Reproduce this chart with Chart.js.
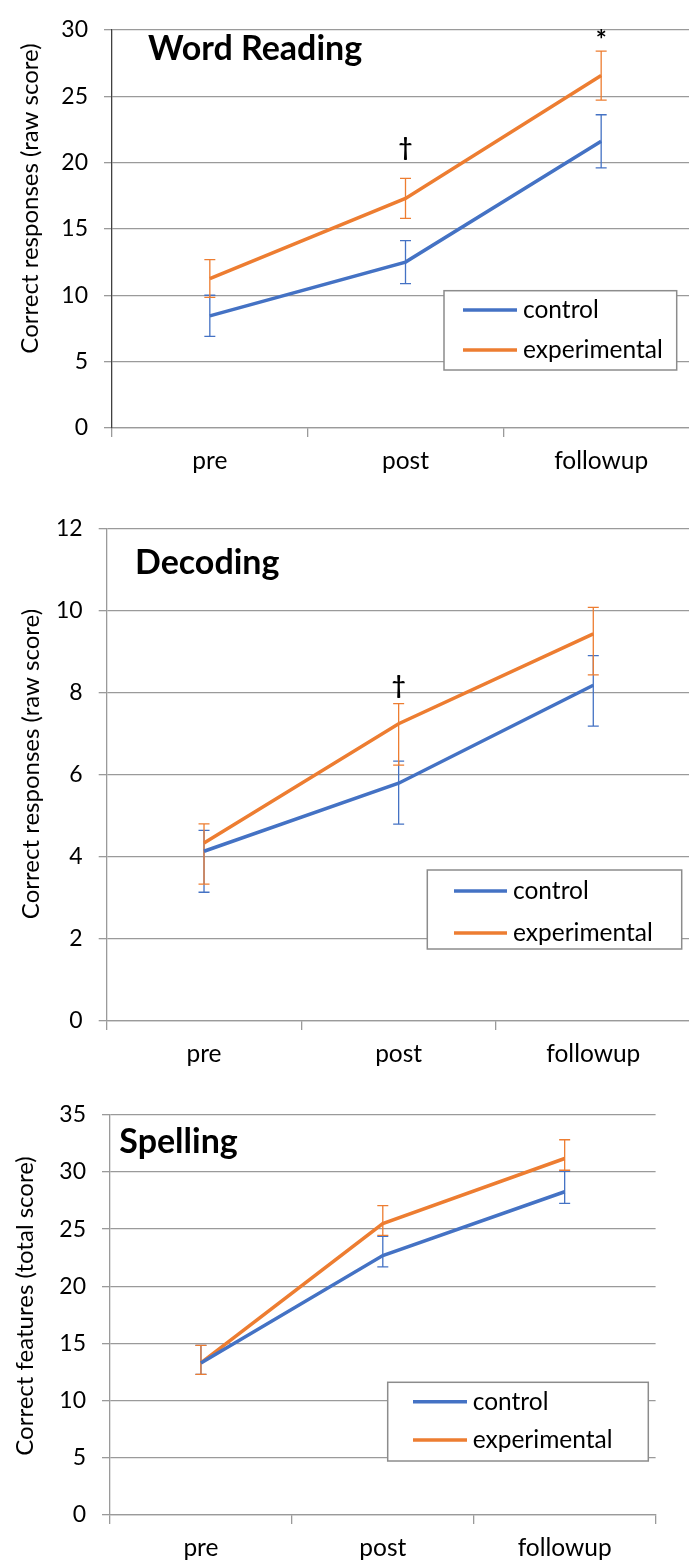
<!DOCTYPE html>
<html>
<head>
<meta charset="utf-8">
<script src="https://cdn.jsdelivr.net/npm/chart.js@4.4.0/dist/chart.umd.min.js"></script>
<style>
  html, body { margin: 0; padding: 0; background: #fff; overflow: hidden; width: 689px; height: 1564px; }
  canvas { position: absolute; left: 0; }
</style>
</head>
<body>
<canvas id="reading" width="700" height="490" style="top:0px"></canvas>
<canvas id="decoding" width="700" height="595" style="top:490px"></canvas>
<canvas id="spelling" width="689" height="479" style="top:1085px"></canvas>
<script>
// categories shared by all three panels
const categories = ['pre', 'post', 'followup'];
const seriesNames = ['control', 'experimental'];

// Word Reading
const readingControl = [8.45, 12.5, 21.6];
const readingControlErr = [1.55, 1.62, 2.0];
const readingExp = [11.26, 17.3, 26.55];
const readingExpErr = [1.42, 1.5, 1.85];
const readingMarkText = ['', '†', '*'];
const readingMarkY = [null, 21.1, 29.2];
const readingTicks = [0, 5, 10, 15, 20, 25, 30];

// Decoding (error bars are not symmetric here)
const decodingControl = [4.14, 5.8, 8.19];
const decodingControlUp = [0.51, 0.54, 0.72];
const decodingControlDown = [1.0, 1.0, 1.0];
const decodingExp = [4.34, 7.25, 9.44];
const decodingExpUp = [0.47, 0.49, 0.65];
const decodingExpDown = [1.0, 1.01, 1.0];
const decodingMarkText = ['', '†', ''];
const decodingMarkY = [null, 8.17, null];
const decodingTicks = [0, 2, 4, 6, 8, 10, 12];

// Spelling
const spellingControl = [13.3, 22.69, 28.27];
const spellingControlUp = [1.53, 1.67, 1.79];
const spellingControlDown = [1.0, 0.99, 1.02];
const spellingExp = [13.3, 25.49, 31.18];
const spellingExpUp = [1.53, 1.56, 1.64];
const spellingExpDown = [1.0, 1.04, 1.03];
const spellingTicks = [0, 5, 10, 15, 20, 25, 30, 35];

const BLUE = '#4472C4';
const ORANGE = '#ED7D31';
const GRID = '#9a9a9a';
const FONT = "Lato, 'Noto Sans', sans-serif";

Chart.defaults.font.family = FONT;
Chart.defaults.color = '#000';

// draws error bars, significance marks, panel title, y title and the boxed legend
const extras = {
    id: 'extras',
    beforeDatasetsDraw(chart, args, opts) {
        const ctx = chart.ctx;
        const xs = chart.scales.x, ys = chart.scales.y;
        chart.data.datasets.forEach((ds) => {
            ctx.save();
            ctx.strokeStyle = ds.borderColor;
            ctx.lineWidth = 1.3;
            ds.data.forEach((v, i) => {
                const px = xs.getPixelForValue(i);
                const top = ys.getPixelForValue(v + ds.errUp[i]);
                const bot = ys.getPixelForValue(v - ds.errDown[i]);
                ctx.beginPath();
                ctx.moveTo(px, top); ctx.lineTo(px, bot);
                ctx.moveTo(px - 5.5, top); ctx.lineTo(px + 5.5, top);
                ctx.moveTo(px - 5.5, bot); ctx.lineTo(px + 5.5, bot);
                ctx.stroke();
            });
            ctx.restore();
        });
    },
    afterDraw(chart, args, opts) {
        const ctx = chart.ctx;
        const xs = chart.scales.x, ys = chart.scales.y;
        const off = opts.canvasTop;
        ctx.save();

        // significance marks
        ctx.fillStyle = '#000';
        ctx.textAlign = 'center';
        ctx.textBaseline = 'middle';
        opts.markText.forEach((t, i) => {
            if (!t) return;
            ctx.font = (t === '*' ? 'bold 26px ' : 'bold 24px ') + FONT;
            ctx.fillText(t, xs.getPixelForValue(i), ys.getPixelForValue(opts.markY[i]));
        });

        // panel title
        ctx.font = 'bold 34px ' + FONT;
        ctx.textAlign = 'left';
        ctx.textBaseline = 'alphabetic';
        ctx.fillText(opts.title.text, opts.title.x, opts.title.y - off);

        // rotated y title
        ctx.save();
        ctx.translate(opts.yTitle.x, opts.yTitle.y - off);
        ctx.rotate(-Math.PI / 2);
        ctx.font = '24px ' + FONT;
        ctx.textAlign = 'center';
        ctx.textBaseline = 'middle';
        ctx.fillText(opts.yTitle.text, 0, 0);
        ctx.restore();

        // legend box
        const b = opts.legend.box;
        ctx.fillStyle = '#fff';
        ctx.fillRect(b[0], b[1] - off, b[2], b[3]);
        ctx.strokeStyle = '#8c8c8c';
        ctx.lineWidth = 1.5;
        ctx.strokeRect(b[0], b[1] - off, b[2], b[3]);
        chart.data.datasets.forEach((ds, k) => {
            const y = opts.legend.rows[k] - off;
            ctx.strokeStyle = ds.borderColor;
            ctx.lineWidth = 3.5;
            ctx.beginPath();
            ctx.moveTo(opts.legend.line[0], y);
            ctx.lineTo(opts.legend.line[1], y);
            ctx.stroke();
            ctx.fillStyle = '#000';
            ctx.font = '24.5px ' + FONT;
            ctx.textAlign = 'left';
            ctx.textBaseline = 'middle';
            ctx.fillText(ds.label, opts.legend.textX, y);
        });
        ctx.restore();
    }
};

function buildChart(id, p) {
    const canvas = document.getElementById(id);
    const W = canvas.width, H = canvas.height;
    return new Chart(canvas.getContext('2d'), {
        type: 'line',
        data: {
            labels: categories,
            datasets: [{
                label: seriesNames[0],
                data: p.control,
                errUp: p.controlUp,
                errDown: p.controlDown,
                borderColor: BLUE,
                borderWidth: 3.5,
                pointRadius: 0,
                tension: 0
            }, {
                label: seriesNames[1],
                data: p.exp,
                errUp: p.expUp,
                errDown: p.expDown,
                borderColor: ORANGE,
                borderWidth: 3.5,
                pointRadius: 0,
                tension: 0
            }]
        },
        options: {
            responsive: false,
            animation: false,
            events: [],
            layout: {
                padding: { top: p.area.top - p.canvasTop, right: W - p.area.right, left: 0, bottom: 0 }
            },
            scales: {
                x: {
                    type: 'category',
                    offset: true,
                    grid: { display: true, offset: true, drawOnChartArea: false, drawTicks: true, tickLength: 9, color: GRID, lineWidth: 1.3 },
                    border: { display: true, color: GRID, width: 1.3 },
                    ticks: { font: { size: 24.5 }, color: '#000', padding: 9 },
                    afterFit: (s) => { s.height = p.canvasTop + H - p.area.bottom; }
                },
                y: {
                    min: p.ticks[0],
                    max: p.ticks[p.ticks.length - 1],
                    afterBuildTicks: (s) => { s.ticks = p.ticks.map(v => ({ value: v })); },
                    grid: { color: GRID, lineWidth: 1.3, tickLength: 8, drawTicks: true },
                    border: { display: true, color: p.axisColor, width: 1.3 },
                    ticks: { font: { size: 23 }, color: '#000', padding: 16 },
                    afterFit: (s) => { s.width = p.area.left; }
                }
            },
            plugins: {
                legend: { display: false },
                tooltip: { enabled: false },
                extras: {
                    canvasTop: p.canvasTop,
                    markText: p.markText,
                    markY: p.markY,
                    title: p.title,
                    yTitle: p.yTitle,
                    legend: p.legend
                }
            }
        },
        plugins: [extras]
    });
}

buildChart('reading', {
    canvasTop: 0,
    area: { top: 22.7, bottom: 428, left: 112, right: 699 },
    ticks: readingTicks,
    control: readingControl, controlUp: readingControlErr, controlDown: readingControlErr,
    exp: readingExp, expUp: readingExpErr, expDown: readingExpErr,
    markText: readingMarkText, markY: readingMarkY,
    axisColor: '#404040',
    title: { text: 'Word Reading', x: 148, y: 60 },
    yTitle: { text: 'Correct responses (raw score)', x: 30, y: 198.5 },
    legend: { box: [444, 290.7, 232.7, 79.3], rows: [310, 350], line: [463, 517], textX: 523 }
});

buildChart('decoding', {
    canvasTop: 490,
    area: { top: 529, bottom: 1021, left: 106.7, right: 690.6 },
    ticks: decodingTicks,
    control: decodingControl, controlUp: decodingControlUp, controlDown: decodingControlDown,
    exp: decodingExp, expUp: decodingExpUp, expDown: decodingExpDown,
    markText: decodingMarkText, markY: decodingMarkY,
    axisColor: GRID,
    title: { text: 'Decoding', x: 135, y: 574 },
    yTitle: { text: 'Correct responses (raw score)', x: 31.7, y: 764 },
    legend: { box: [427.3, 870, 254.4, 79], rows: [891, 933], line: [454, 507], textX: 513 }
});

buildChart('spelling', {
    canvasTop: 1085,
    area: { top: 1112.7, bottom: 1515, left: 110, right: 655.6 },
    ticks: spellingTicks,
    control: spellingControl, controlUp: spellingControlUp, controlDown: spellingControlDown,
    exp: spellingExp, expUp: spellingExpUp, expDown: spellingExpDown,
    markText: ['', '', ''], markY: [null, null, null],
    axisColor: GRID,
    title: { text: 'Spelling', x: 119.3, y: 1153 },
    yTitle: { text: 'Correct features (total score)', x: 25, y: 1306 },
    legend: { box: [387.7, 1382.3, 260.6, 78.7], rows: [1401.7, 1440], line: [413, 467], textX: 472.7 }
});
</script>
</body>
</html>
